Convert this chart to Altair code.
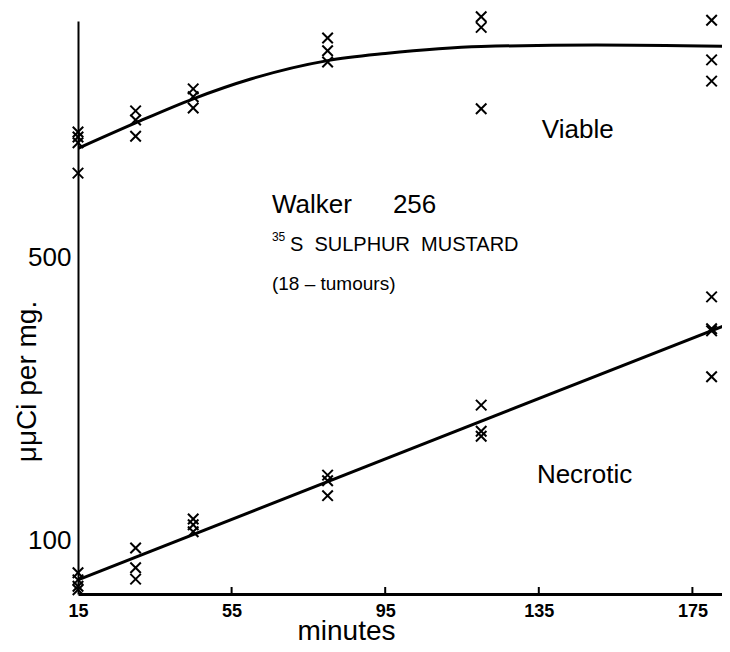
import altair as alt
import pandas as pd

# ---- data ----
viable_t = [15, 15, 15, 15, 30, 30, 30, 45, 45, 45, 80, 80, 80, 120, 120, 120, 180, 180, 180]
viable_v = [678, 671, 663, 620, 708, 695, 672, 739, 728, 712, 811, 793, 777, 841, 826, 711, 836, 780, 750]

necrotic_t = [15, 15, 15, 15, 30, 30, 30, 45, 45, 45, 80, 80, 80, 120, 120, 120, 180, 180, 180, 180]
necrotic_v = [55, 45, 36, 31, 90, 62, 46, 131, 123, 113, 193, 185, 164, 292, 255, 248, 445, 400, 397, 332]

viable_curve_t = [15, 30, 45, 60, 80, 95, 120, 150, 185]
viable_curve_v = [655, 691, 725, 753, 779, 789, 799, 801, 799]

necrotic_line_t = [15, 185]
necrotic_line_v = [45, 408]

x_ticks = [15, 55, 95, 135, 175]
inner_ticks = [55, 95, 135, 175]
y_ticks = [100, 500]

W, H = 644, 573
XDOM = [15, 15 + W / 3.84]
YDOM = [25, 835]

FONT = "Liberation Sans"

pts = pd.DataFrame({"t": viable_t + necrotic_t, "v": viable_v + necrotic_v})
curve_v = pd.DataFrame({"t": viable_curve_t, "v": viable_curve_v})
line_n = pd.DataFrame({"t": necrotic_line_t, "v": necrotic_line_v})
ticks_df = pd.DataFrame({"t": inner_ticks})

xs = alt.Scale(domain=XDOM, nice=False, zero=False)
ys = alt.Scale(domain=YDOM, nice=False, zero=False)

x_axis = alt.Axis(
    values=x_ticks, grid=False, ticks=False, tickSize=0, domainColor="black", domainWidth=3,
    labelFont=FONT, labelFontWeight="bold", labelFontSize=18,
    labelColor="black", labelPadding=8, labelFlush=False,
    title="minutes", titleFont=FONT, titleFontSize=28, titleFontWeight="normal",
    titleColor="black", titleX=268, titleY=45, titleBaseline="alphabetic", titleAlign="center",
)
y_axis = alt.Axis(
    values=y_ticks, grid=False, ticks=False, tickSize=0, domainColor="black", domainWidth=2,
    labelFont=FONT, labelFontSize=26, labelColor="black", labelPadding=7,
    title="\u03bc\u03bcCi per mg.", titleFont=FONT, titleFontSize=28, titleFontWeight="normal",
    titleColor="black", titleAngle=270, titleX=-43, titleY=360, titleBaseline="alphabetic",
    titleAlign="center",
)

base_x = alt.X("t:Q", scale=xs, axis=x_axis)
base_y = alt.Y("v:Q", scale=ys, axis=y_axis)

xmark = "M-1,-1L1,1M-1,1L1,-1"
points = alt.Chart(pts).mark_point(
    shape=xmark, filled=False, color="black", strokeWidth=2, size=110, opacity=1
).encode(x=base_x, y=base_y)

vline = alt.Chart(curve_v).mark_line(
    color="black", strokeWidth=3, interpolate="monotone", clip=True
).encode(x=alt.X("t:Q", scale=xs), y=alt.Y("v:Q", scale=ys))

nline = alt.Chart(line_n).mark_line(color="black", strokeWidth=3, clip=True).encode(
    x=alt.X("t:Q", scale=xs), y=alt.Y("v:Q", scale=ys)
)

tick_marks = alt.Chart(ticks_df).mark_rule(color="black", strokeWidth=2).encode(
    x=alt.X("t:Q", scale=xs), y=alt.value(H), y2=alt.value(H - 7)
)

def label(txt, t, v, size, weight="normal"):
    df = pd.DataFrame({"t": [t], "v": [v], "s": [txt]})
    return alt.Chart(df).mark_text(
        align="left", baseline="alphabetic", font=FONT, fontSize=size,
        fontWeight=weight, color="black"
    ).encode(x=alt.X("t:Q", scale=xs), y=alt.Y("v:Q", scale=ys), text="s:N")

texts = [
    label("Viable", 135.8, 670, 26),
    label("Necrotic", 134.5, 182, 26),
    label("Walker", 65.5, 563.6, 26),
    label("256", 97.0, 563.6, 26),
    label("35", 65.5, 524, 12),
    label("S\u00a0\u00a0SULPHUR\u00a0\u00a0MUSTARD", 70.2, 510, 20),
    label("(18 \u2013 tumours)", 65.5, 454.8, 19),
]

chart = alt.layer(tick_marks, vline, nline, points, *texts).properties(
    width=W, height=H,
    autosize=alt.AutoSizeParams(type="none"),
    padding={"left": 70, "top": 13, "right": 0, "bottom": 50},
).configure(background="white").configure_view(strokeWidth=0)

chart.save("out.html", embed_options={"renderer": "svg", "actions": False})
